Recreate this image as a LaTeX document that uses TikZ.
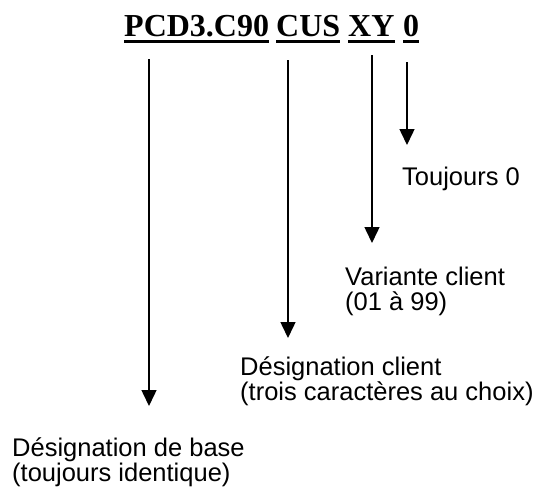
\documentclass[tikz,border=0pt]{standalone}
\usepackage{fontspec}
\setmainfont{Liberation Serif}
\newfontfamily\arialfont{Liberation Sans}
\usetikzlibrary{arrows.meta}
\begin{document}
\begin{tikzpicture}[x=1pt,y=-1pt,
  word/.style={anchor=base west,inner sep=0pt,font=\bfseries\fontsize{32}{36}\selectfont},
  lbl/.style={anchor=base west,inner sep=0pt,align=left,font=\arialfont\fontsize{25.5}{24.5}\selectfont},
  arr/.style={line width=1.5pt,-{Triangle[length=16pt,width=15pt]}},
  uline/.style={line width=3pt}]
\useasboundingbox (0,0) rectangle (547,493);
% code words
\node[word] (w1) at (124,36) {PCD3.C90};
\node[word] (w2) at (276,36) {CUS};
\node[word] (w3) at (348,36) {XY};
\node[word] (w4) at (403,36) {0};
\foreach \w in {w1,w2,w3,w4}
  \draw[uline] ([yshift=-5.5pt]\w.base west) -- ([yshift=-5.5pt]\w.base east);
% labels (base anchor = baseline of the last line)
\node[lbl] (l4) at (402,185) {Toujours 0};
\node[lbl] (l3) at (345,310) {Variante client\\(01 à 99)};
\node[lbl] (l2) at (240,400) {Désignation client\\(trois caractères au choix)};
\node[lbl] (l1) at (12,481) {Désignation de base\\(toujours identique)};
% arrow ends
\coordinate (s1) at (149,59);  \coordinate (e1) at (149,406);
\coordinate (s2) at (288,60);  \coordinate (e2) at (288,338);
\coordinate (s3) at (372,55);  \coordinate (e3) at (372,243);
\coordinate (s4) at (407,62);  \coordinate (e4) at (407,145);
\draw[arr] (s1) -- (e1);
\draw[arr] (s2) -- (e2);
\draw[arr] (s3) -- (e3);
\draw[arr] (s4) -- (e4);
\end{tikzpicture}
\end{document}
